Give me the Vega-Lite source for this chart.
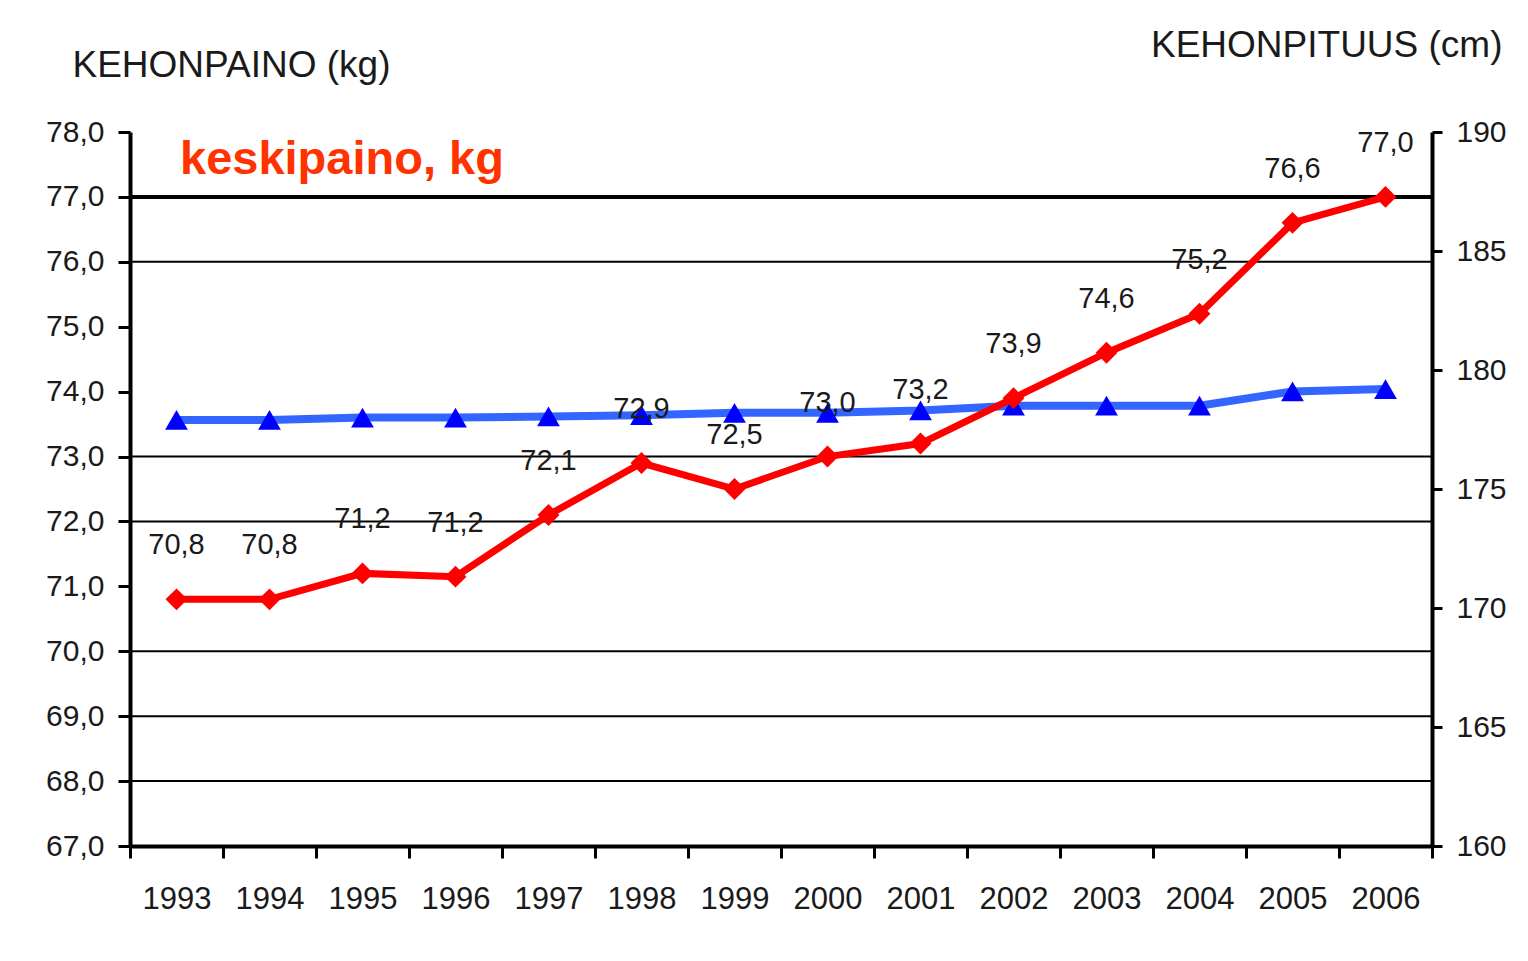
{
  "$schema": "https://vega.github.io/schema/vega-lite/v6.json",
  "width": 1302,
  "height": 714,
  "autosize": {"type": "none"},
  "padding": {"left": 130, "top": 132, "right": 96, "bottom": 115},
  "background": "white",
  "config": {
    "locale": {"number": {"decimal": ",", "thousands": "\u00a0", "grouping": [3], "currency": ["", " €"]}},
    "font": "Liberation Sans",
    "view": {"stroke": null},
    "axis": {"labelFont": "Liberation Sans", "titleFont": "Liberation Sans", "labelColor": "#1a1a1a", "titleColor": "#1a1a1a", "domainColor": "#000", "tickColor": "#000"},
    "axisLeft": {
      "format": ".1f",
      "grid": false,
      "labelFontSize": 30,
      "labelPadding": 14,
      "tickSize": 12,
      "tickWidth": 3,
      "domainWidth": 4,
      "titleAngle": 0,
      "titleFontSize": 37,
      "titleFontWeight": "normal",
      "titleAlign": "left",
      "titleBaseline": "middle",
      "titleX": -58,
      "titleY": -67
    }
  },
  "title": {
    "text": "keskipaino, kg",
    "anchor": "start",
    "frame": "group",
    "orient": "top",
    "offset": 0,
    "dx": 50,
    "dy": 195,
    "baseline": "alphabetic",
    "font": "Liberation Sans",
    "fontSize": 47,
    "fontWeight": "bold",
    "color": "#FF3300"
  },
  "datasets": {
    "sarjat": [
      {"vuosi": "1993", "paino": 70.8, "pituus": 177.9},
      {"vuosi": "1994", "paino": 70.8, "pituus": 177.9},
      {"vuosi": "1995", "paino": 71.2, "pituus": 178.0},
      {"vuosi": "1996", "paino": 71.15, "pituus": 178.0},
      {"vuosi": "1997", "paino": 72.1, "pituus": 178.05},
      {"vuosi": "1998", "paino": 72.9, "pituus": 178.1},
      {"vuosi": "1999", "paino": 72.5, "pituus": 178.2},
      {"vuosi": "2000", "paino": 73.0, "pituus": 178.2},
      {"vuosi": "2001", "paino": 73.2, "pituus": 178.3},
      {"vuosi": "2002", "paino": 73.9, "pituus": 178.5},
      {"vuosi": "2003", "paino": 74.6, "pituus": 178.5},
      {"vuosi": "2004", "paino": 75.2, "pituus": 178.5},
      {"vuosi": "2005", "paino": 76.6, "pituus": 179.1},
      {"vuosi": "2006", "paino": 77.0, "pituus": 179.2}
    ],
    "ohuet": [{"g": 76}, {"g": 73}, {"g": 72}, {"g": 70}, {"g": 69}, {"g": 68}],
    "paksu": [{"g": 77}]
  },
  "layer": [
    {
      "data": {"name": "sarjat"},
      "encoding": {
        "x": {
          "field": "vuosi",
          "type": "ordinal",
          "scale": {"type": "band", "paddingInner": 0, "paddingOuter": 0},
          "axis": {
            "title": null,
            "labelAngle": 0,
            "labelFontSize": 31,
            "labelPadding": 26,
            "tickBand": "extent",
            "tickSize": 12,
            "tickWidth": 3,
            "domainWidth": 4
          }
        },
        "y": {
          "field": "pituus",
          "type": "quantitative",
          "scale": {"domain": [160, 190], "nice": false, "zero": false},
          "axis": {
            "orient": "right",
            "values": [160, 165, 170, 175, 180, 185, 190],
            "format": "d",
            "grid": false,
            "labelFontSize": 30,
            "labelPadding": 14,
            "tickSize": 10,
            "tickWidth": 3,
            "domainWidth": 4,
            "title": "KEHONPITUUS (cm)",
            "titleAngle": 0,
            "titleFontSize": 37,
            "titleFontWeight": "normal",
            "titleAlign": "right",
            "titleBaseline": "middle",
            "titleX": 70,
            "titleY": -87
          }
        }
      },
      "layer": [
        {"mark": {"type": "line", "color": "#3366FF", "strokeWidth": 8}},
        {"mark": {"type": "point", "shape": "triangle-up", "filled": true, "opacity": 1, "color": "#0000FF", "size": 520}}
      ]
    },
    {
      "layer": [
        {
          "data": {"name": "ohuet"},
          "mark": {"type": "rule", "color": "#000", "strokeWidth": 2},
          "encoding": {"y": {"field": "g", "type": "quantitative", "scale": {"domain": [67, 78], "nice": false, "zero": false}, "axis": {"orient": "left", "title": "KEHONPAINO (kg)", "values": [67, 68, 69, 70, 71, 72, 73, 74, 75, 76, 77, 78], "format": ".1f"}}}
        },
        {
          "data": {"name": "paksu"},
          "mark": {"type": "rule", "color": "#000", "strokeWidth": 4},
          "encoding": {"y": {"field": "g", "type": "quantitative", "scale": {"domain": [67, 78], "nice": false, "zero": false}, "axis": {"orient": "left", "title": "KEHONPAINO (kg)", "values": [67, 68, 69, 70, 71, 72, 73, 74, 75, 76, 77, 78], "format": ".1f"}}}
        },
        {
          "data": {"name": "sarjat"},
          "encoding": {
            "x": {
              "field": "vuosi",
              "type": "ordinal",
              "scale": {"type": "band", "paddingInner": 0, "paddingOuter": 0},
              "axis": {
                "title": null,
                "labelAngle": 0,
                "labelFontSize": 31,
                "labelPadding": 26,
                "tickBand": "extent",
                "tickSize": 12,
                "tickWidth": 3,
                "domainWidth": 4
              }
            },
            "y": {
              "field": "paino",
              "type": "quantitative",
              "scale": {"domain": [67, 78], "nice": false, "zero": false},
              "axis": {"orient": "left", "title": "KEHONPAINO (kg)", "values": [67, 68, 69, 70, 71, 72, 73, 74, 75, 76, 77, 78], "format": ".1f"}
            }
          },
          "layer": [
            {"mark": {"type": "line", "color": "#FF0000", "strokeWidth": 7}},
            {"mark": {"type": "point", "shape": "diamond", "filled": true, "opacity": 1, "color": "#FF0000", "size": 480}},
            {
              "mark": {"type": "text", "dy": -54, "baseline": "middle", "align": "center", "fontSize": 29, "font": "Liberation Sans", "color": "#1a1a1a"},
              "encoding": {"text": {"field": "paino", "type": "quantitative", "format": ".1f"}}
            }
          ]
        }
      ]
    }
  ],
  "resolve": {"scale": {"y": "independent"}, "axis": {"y": "independent"}}
}
